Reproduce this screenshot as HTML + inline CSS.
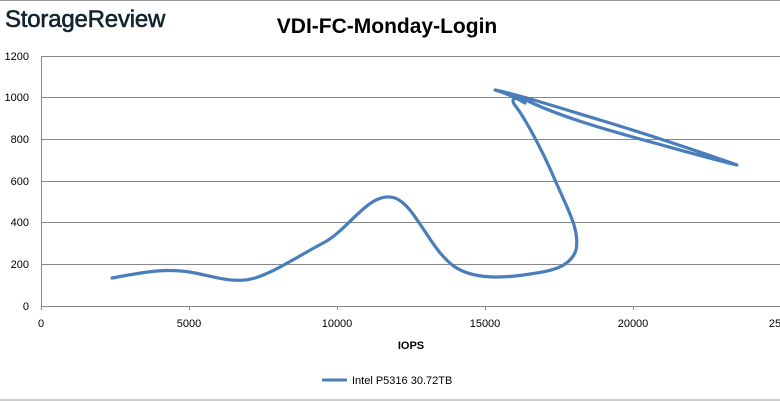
<!DOCTYPE html>
<html><head><meta charset="utf-8"><style>
body{margin:0;background:#fff;}
svg{display:block;font-family:"Liberation Sans",sans-serif;}
</style></head><body>
<svg width="780" height="401" viewBox="0 0 780 401" xmlns="http://www.w3.org/2000/svg">
<rect width="780" height="401" fill="#fff"/>
<line x1="0" y1="0.5" x2="780" y2="0.5" stroke="#999" stroke-width="1"/>
<line x1="0" y1="400" x2="780" y2="400" stroke="#999" stroke-width="1"/>
<text x="5" y="27" font-size="24" fill="#13242f" stroke="#13242f" stroke-width="0.6" letter-spacing="-0.2">StorageReview</text>
<text x="387" y="33" font-size="21" font-weight="bold" text-anchor="middle" fill="#000">VDI-FC-Monday-Login</text>
<g stroke="#888" stroke-width="1">
<line x1="41" y1="56.5" x2="780" y2="56.5"/>
<line x1="41" y1="97.5" x2="780" y2="97.5"/>
<line x1="41" y1="139.5" x2="780" y2="139.5"/>
<line x1="41" y1="181.5" x2="780" y2="181.5"/>
<line x1="41" y1="222.5" x2="780" y2="222.5"/>
<line x1="41" y1="264.5" x2="780" y2="264.5"/>
<line x1="41" y1="306.5" x2="780" y2="306.5"/>
<line x1="41.5" y1="56" x2="41.5" y2="310"/>
<line x1="189.5" y1="306" x2="189.5" y2="310"/>
<line x1="337.5" y1="306" x2="337.5" y2="310"/>
<line x1="485.5" y1="306" x2="485.5" y2="310"/>
<line x1="633.5" y1="306" x2="633.5" y2="310"/>
</g>
<g font-size="11" fill="#000" text-anchor="end">
<text x="29" y="60">1200</text><text x="29" y="101">1000</text><text x="29" y="143">800</text>
<text x="29" y="185">600</text><text x="29" y="226">400</text><text x="29" y="268">200</text><text x="29" y="310">0</text>
</g>
<g font-size="11" fill="#000" text-anchor="middle">
<text x="41" y="327">0</text><text x="189" y="327">5000</text><text x="337" y="327">10000</text>
<text x="485" y="327">15000</text><text x="633" y="327">20000</text><text x="775" y="327">25</text>
</g>
<text x="411" y="349" font-size="11" font-weight="bold" text-anchor="middle">IOPS</text>
<path d="M112 278 C140 273,165 267,195 273 C215 277,235 284,255 278 C275 272,300 255,325 242 C350 228,370 190,395 198 C415 205,430 250,455 267 C475 280,505 278,530 274 C550 271,570 268,576 250 C580 230,568 210,555 180 C540 145,523 115,514 104 C510 97,518 96,530 102 C560 116,600 128,640 139 C680 150,715 160,737 165 C715 157,650 135,600 120 C560 108,520 95,495 90 C505 93,515 97,525 103" fill="none" stroke="#4a7ebb" stroke-width="3.2" stroke-linejoin="round" stroke-linecap="round"/>
<line x1="322" y1="380" x2="347" y2="380" stroke="#4a7ebb" stroke-width="3"/>
<text x="352" y="384" font-size="11">Intel P5316 30.72TB</text>
</svg>
</body></html>
